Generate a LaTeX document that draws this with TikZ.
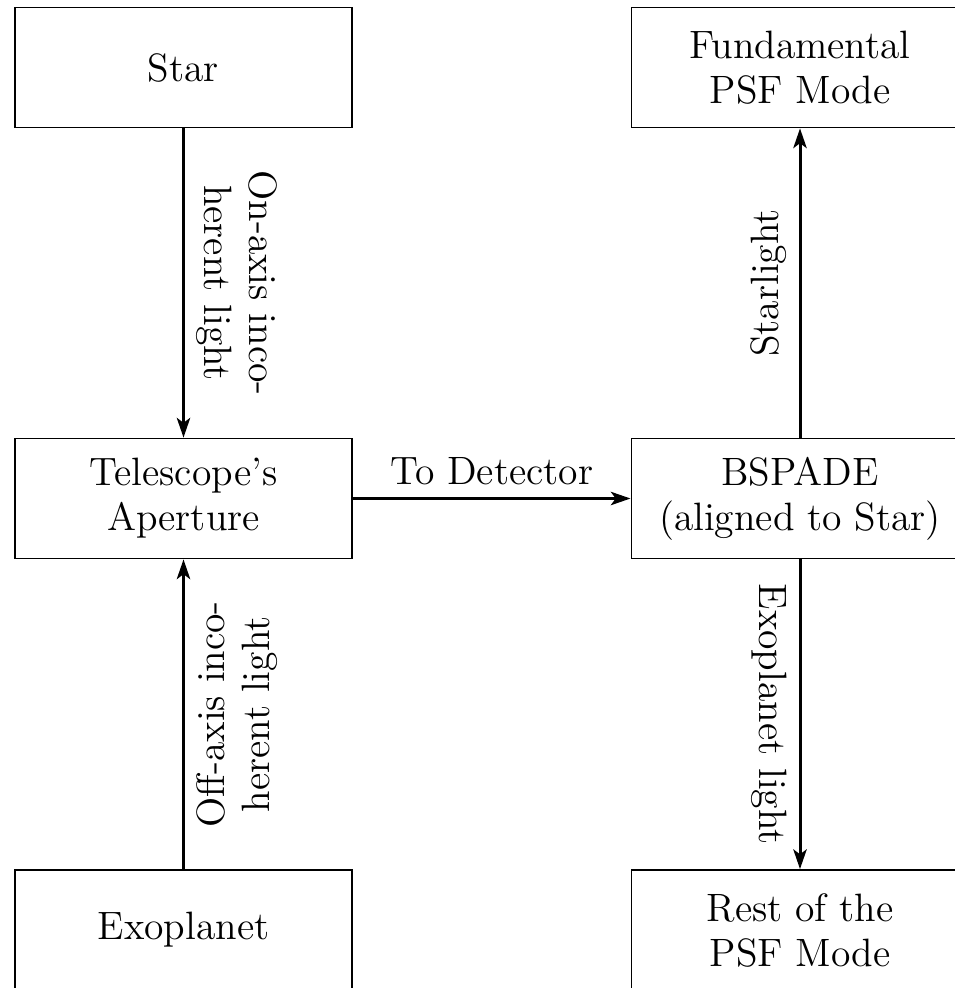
\documentclass[tikz,border=0pt]{standalone}
\usetikzlibrary{arrows.meta}
\newcommand\figfont{\fontsize{11.25pt}{12.8pt}\selectfont}
\begin{document}
\begin{tikzpicture}[x=0.01cm,y=-0.01cm,
  box/.style={draw, line width=0.5pt, minimum width=3.37cm, minimum height=1.2cm, inner sep=0pt, align=center, font=\figfont},
  arr/.style={-{Stealth[length=5.6pt,width=3.8pt,inset=1.4pt]}, line width=0.85pt},
  lab/.style={font=\figfont, align=center}]
\clip (0,0) rectangle (955,988);
\useasboundingbox (0,0) rectangle (955,988);
\node[box] (star) at (183.5,67.5) {Star};
\node[box] (tel) at (183.5,498.5) {Telescope's\\Aperture};
\node[box] (exo) at (183.5,930) {Exoplanet};
\node[box] (fund) at (800,67.5) {Fundamental\\PSF Mode};
\node[box] (bsp) at (800,498.5) {BSPADE\\(aligned to Star)};
\node[box] (rest) at (800,930) {Rest of the\\PSF Mode};
\draw[arr] (star) -- (tel) node[lab, midway, rotate=-90, anchor=south] {On-axis inco-\\herent light};
\draw[arr] (exo) -- (tel) node[lab, midway, rotate=90, anchor=north] {Off-axis inco-\\herent light};
\draw[arr] (tel) -- (bsp) node[lab, midway, above] {To Detector};
\draw[arr] (bsp) -- (fund) node[lab, midway, rotate=90, anchor=south] {Starlight};
\draw[arr] (bsp) -- (rest) node[lab, midway, rotate=-90, anchor=north] {Exoplanet light};
\end{tikzpicture}
\end{document}
